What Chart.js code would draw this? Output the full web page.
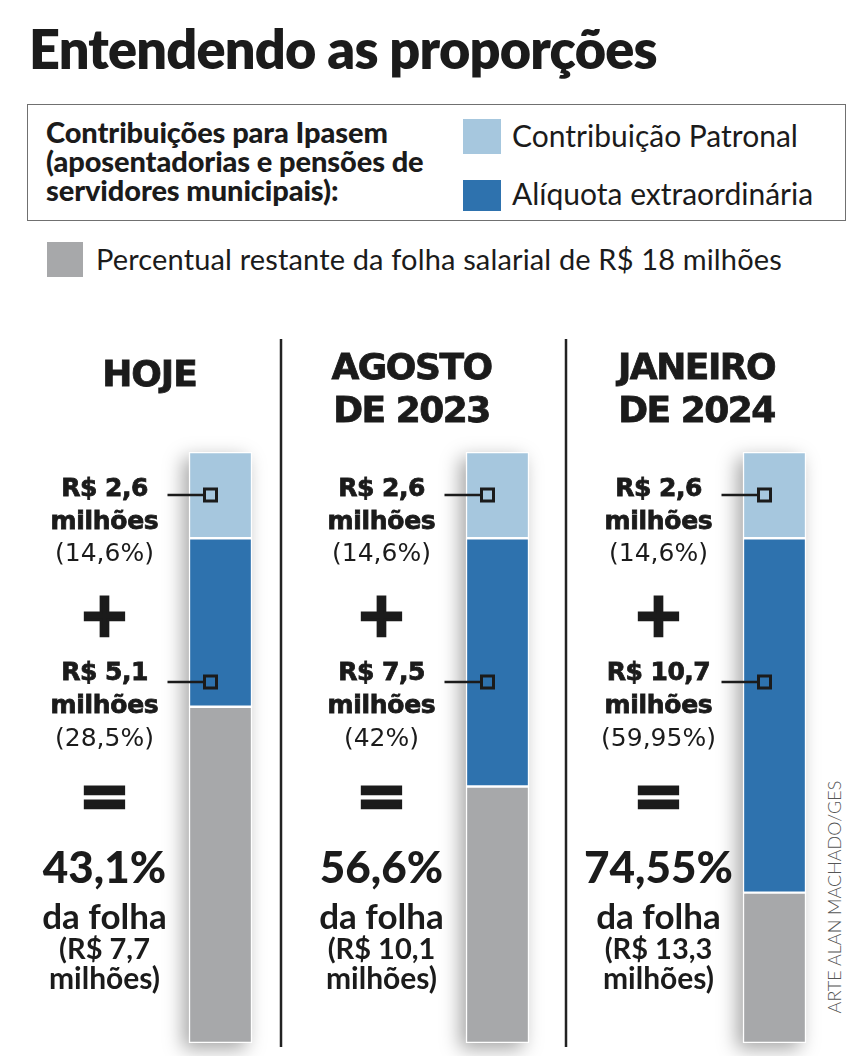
<!DOCTYPE html>
<html>
<head>
<meta charset="utf-8">
<script src="https://cdn.jsdelivr.net/npm/chart.js@4.4.0/dist/chart.umd.min.js"></script>
<style>
  html, body { margin: 0; padding: 0; background: #fff; }
  body { width: 862px; height: 1056px; position: relative; overflow: hidden; color: #1b1b1b; font-family: Lato, sans-serif; }
  #chart { position: absolute; left: 0; top: 0; }
  .abs { position: absolute; white-space: nowrap; }
  .c { transform: translate(-50%, -50%); text-align: center; }
  #title { left: 29px; top: 16px; font: 800 54px Lato; letter-spacing: -0.8px; }
  #box { left: 27px; top: 104px; width: 817px; height: 115px; border: 1.5px solid #707070; }
  #boxtext { left: 18px; top: 12px; font: 900 29px/29px Lato; letter-spacing: -0.1px; }
  .sw { position: absolute; width: 38px; height: 35px; }
  .lg { position: absolute; font: 400 30px Lato; }
  #credit { left: 834px; top: 897px; transform: translate(-50%, -50%) rotate(-90deg); font: 300 18px Lato; color: #555; }
  .heavy { -webkit-text-stroke: 0.8px #1b1b1b; }
</style>
</head>
<body>
<div id="title" class="abs">Entendendo as proporções</div>
<div id="box" class="abs">
  <div id="boxtext" class="abs">Contribuições para Ipasem<br>(aposentadorias e pensões de<br>servidores municipais):</div>
  <div class="sw" style="left:435px; top:14px; background:#a6c7de"></div>
  <div class="lg" style="left:484px; top:12px">Contribuição Patronal</div>
  <div class="sw" style="left:435px; top:75px; height:31px; background:#2e72ae"></div>
  <div class="lg" style="left:484px; top:70px">Alíquota extraordinária</div>
</div>
<div class="sw" style="left:47px; top:242px; width:36px; background:#a7a8aa"></div>
<div class="lg" style="left:96px; top:241px; font-size:29px; letter-spacing:0.15px">Percentual restante da folha salarial de R$ 18 milhões</div>
<div id="credit" class="abs">ARTE ALAN MACHADO/GES</div>
<canvas id="chart" width="960" height="1056"></canvas>

<script>
// periods shown in each column
const categories = [['HOJE'], ['AGOSTO', 'DE 2023'], ['JANEIRO', 'DE 2024']];

// share of the R$ 18 mi payroll (%)
const patronalPct = [14.6, 14.6, 14.6];
const extraPct = [28.5, 42, 59.95];
const restantePct = [56.9, 43.4, 25.45];

// amounts in R$ millions
const patronalMi = [2.6, 2.6, 2.6];
const extraMi = [5.1, 7.5, 10.7];
const totalPct = [43.1, 56.6, 74.55];
const totalMi = [7.7, 10.1, 13.3];

const colors = { patronal: '#a6c7de', extra: '#2e72ae', restante: '#a7a8aa', ink: '#1b1b1b' };

function br(v) {
    return String(v).replace('.', ',');
}

// Shadows, leader lines and column separators
const decor = {
    id: 'decor',
    beforeDatasetsDraw(chart) {
        const ctx = chart.ctx;
        const top = chart.getDatasetMeta(2).data;
        const bottom = chart.getDatasetMeta(0).data;
        ctx.save();
        ctx.shadowColor = 'rgba(0,0,0,0.35)';
        ctx.shadowBlur = 18;
        ctx.shadowOffsetX = -6;
        ctx.shadowOffsetY = 6;
        ctx.fillStyle = '#fff';
        top.forEach((bar, i) => {
            const w = bar.width;
            ctx.fillRect(bar.x - w / 2, bar.y, w, bottom[i].base - bar.y);
        });
        ctx.restore();
    },
    afterDatasetsDraw(chart) {
        const ctx = chart.ctx;
        ctx.save();
        // separators
        ctx.strokeStyle = '#222';
        ctx.lineWidth = 2.5;
        [281, 566].forEach(x => {
            ctx.beginPath();
            ctx.moveTo(x, 339);
            ctx.lineTo(x, 1047);
            ctx.stroke();
        });
        // leader lines with small markers
        const rows = [{ ds: 2, y: 495, color: colors.patronal }, { ds: 1, y: 682, color: colors.extra }];
        rows.forEach(r => {
            chart.getDatasetMeta(r.ds).data.forEach(bar => {
                const mx = bar.x - 10;
                ctx.strokeStyle = colors.ink;
                ctx.lineWidth = 2.5;
                ctx.beginPath();
                ctx.moveTo(bar.x - 53, r.y);
                ctx.lineTo(mx - 7, r.y);
                ctx.stroke();
                ctx.fillStyle = r.color;
                ctx.lineWidth = 3;
                ctx.fillRect(mx - 6, r.y - 6, 12, 12);
                ctx.strokeRect(mx - 6, r.y - 6, 12, 12);
            });
        });
        ctx.restore();
    }
};

const chart = new Chart(document.getElementById('chart'), {
    type: 'bar',
    data: {
        labels: categories,
        datasets: [
            { label: 'Percentual restante da folha salarial de R$ 18 milhões', data: restantePct, backgroundColor: colors.restante },
            { label: 'Alíquota extraordinária', data: extraPct, backgroundColor: colors.extra },
            { label: 'Contribuição Patronal', data: patronalPct, backgroundColor: colors.patronal }
        ]
    },
    options: {
        responsive: false,
        animation: false,
        layout: { padding: { top: 452, bottom: 13, left: 82, right: 47 } },
        datasets: { bar: { barThickness: 63, borderColor: '#fff', borderWidth: 1.5, borderSkipped: false } },
        plugins: { legend: { display: false }, tooltip: { enabled: false } },
        scales: {
            x: { stacked: true, display: false },
            y: { stacked: true, display: false, min: 0, max: 100 }
        }
    },
    plugins: [decor]
});

// Column texts, anchored on each bar's x position
function addText(text, x, y, font, cls) {
    const d = document.createElement('div');
    d.className = 'abs c' + (cls ? ' ' + cls : '');
    d.style.left = x + 'px';
    d.style.top = y + 'px';
    d.style.font = font;
    d.textContent = text;
    document.body.appendChild(d);
    return d;
}

const headerShift = [-71, -86, -78];
const headFont = "700 36px 'DejaVu Sans'";
const upper = "700 25px 'DejaVu Sans'";
const upperPct = "400 25px 'DejaVu Sans'";
const sign = "700 62px 'DejaVu Sans'";

categories.forEach((cat, i) => {
    const cx = chart.scales.x.getPixelForValue(i);
    const tx = cx - 116;
    if (cat.length === 1) {
        addText(cat[0], cx + headerShift[i], 373, headFont, 'heavy').style.letterSpacing = '-1px';
    } else {
        addText(cat[0], cx + headerShift[i], 366, headFont, 'heavy').style.letterSpacing = '-1.5px';
        addText(cat[1], cx + headerShift[i], 409, headFont, 'heavy').style.letterSpacing = '-1.5px';
    }
    addText('R$ ' + br(patronalMi[i]), tx, 487, upper, 'heavy').style.letterSpacing = '-0.5px';
    addText('milhões', tx, 520, upper, 'heavy').style.letterSpacing = '-0.3px';
    addText('(' + br(patronalPct[i]) + '%)', tx, 552, upperPct);
    addText('+', tx, 614, sign, 'heavy').style.webkitTextStroke = '2.5px #1b1b1b';
    addText('R$ ' + br(extraMi[i]), tx, 671, upper, 'heavy').style.letterSpacing = '-0.5px';
    addText('milhões', tx, 704, upper, 'heavy').style.letterSpacing = '-0.3px';
    addText('(' + br(extraPct[i]) + '%)', tx, 737, upperPct);
    addText('=', tx, 795, sign, 'heavy').style.webkitTextStroke = '2.5px #1b1b1b';
    addText(br(totalPct[i]) + '%', tx, 866, '900 44px Lato');
    addText('da folha', tx, 915, '700 35px Lato');
    addText('(R$ ' + br(totalMi[i]), tx, 947, '700 29px Lato');
    addText('milhões)', tx, 977, '700 30px Lato');
});
</script>
</body>
</html>
